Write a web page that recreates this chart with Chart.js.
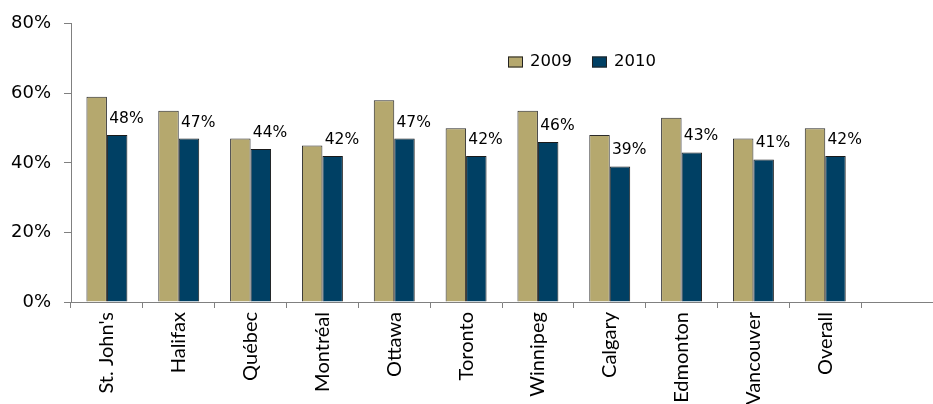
<!DOCTYPE html>
<html>
<head>
<meta charset="utf-8">
<script src="https://cdn.jsdelivr.net/npm/chart.js@4/dist/chart.umd.min.js"></script>
<style>
html,body{margin:0;padding:0;background:#fff;}
#wrap{position:relative;width:933px;height:404px;}
</style>
</head>
<body>
<div id="wrap"><canvas id="c" width="933" height="404"></canvas></div>
<script>
const categories = ["St. John's","Halifax","Québec","Montréal","Ottawa","Toronto","Winnipeg","Calgary","Edmonton","Vancouver","Overall",""];
const seriesNames = ["2009","2010"];
const values2009 = [59,55,47,45,58,50,55,48,53,47,50,null];
const values2010 = [48,47,44,42,47,42,46,39,43,41,42,null];
const yTicks = [0,20,40,60,80];

const NUMFONT = "'DejaVu Sans', sans-serif";
const LABFONT = "'Liberation Sans Narrow', 'Arial Narrow', Lato, sans-serif";
const TAN = '#B5A86E';
const NAVY = '#004064';

const dataLabels = {
  id:'dataLabels',
  afterDatasetsDraw(chart){
    const ctx = chart.ctx;
    const meta = chart.getDatasetMeta(1);
    ctx.save();
    ctx.font = '15.5px ' + NUMFONT;
    ctx.fillStyle = '#000';
    ctx.textAlign = 'center';
    ctx.textBaseline = 'middle';
    meta.data.forEach((el,i)=>{
      const v = chart.data.datasets[1].data[i];
      if(v==null) return;
      ctx.fillText(v + '%', el.x + el.width/2 - 1, el.y - 16);
    });
    ctx.restore();
  }
};

const customLegend = {
  id:'customLegend',
  afterDraw(chart, args, opts){
    const ctx = chart.ctx;
    ctx.save();
    ctx.font = '16.5px ' + NUMFONT;
    ctx.textBaseline = 'middle';
    ctx.textAlign = 'left';
    let x = opts.x;
    const y = opts.y;
    chart.data.datasets.forEach(ds=>{
      ctx.fillStyle = ds.backgroundColor;
      ctx.fillRect(x, y-5.5, 15, 11);
      ctx.strokeStyle = '#222';
      ctx.lineWidth = 1;
      ctx.strokeRect(x+0.5, y-5, 14, 10);
      ctx.fillStyle = '#000';
      ctx.fillText(ds.label, x + 22, y);
      x += 22 + ctx.measureText(ds.label).width + 20;
    });
    ctx.restore();
  }
};

new Chart(document.getElementById('c'), {
  type:'bar',
  data:{
    labels: categories,
    datasets:[
      {label: seriesNames[0], data: values2009, backgroundColor: TAN, borderColor:'#2a2a2a', borderWidth:1},
      {label: seriesNames[1], data: values2010, backgroundColor: NAVY, borderColor:'#1a1a1a', borderWidth:1}
    ]
  },
  options:{
    responsive:false,
    animation:false,
    devicePixelRatio:1,
    layout:{padding:{top:22,left:0,right:0,bottom:0}},
    datasets:{bar:{categoryPercentage:0.57, barPercentage:1.0}},
    plugins:{
      legend:{display:false},
      tooltip:{enabled:false},
      title:{display:false},
      customLegend:{x:508, y:62}
    },
    scales:{
      x:{
        grid:{drawOnChartArea:false, drawTicks:true, tickLength:6, color:'#808080', offset:true},
        border:{color:'#808080', width:1},
        ticks:{color:'#000', font:{family:LABFONT, size:20}, minRotation:90, maxRotation:90, autoSkip:false, padding:4},
        afterFit(s){ s.height = 102; }
      },
      y:{
        min:0, max:80,
        afterBuildTicks(s){ s.ticks = yTicks.map(v=>({value:v})); },
        grid:{drawOnChartArea:false, drawTicks:true, tickLength:7, color:'#808080'},
        border:{color:'#808080', width:1},
        ticks:{color:'#000', font:{family:NUMFONT, size:18}, padding:13, callback:v=>v+'%'},
        afterFit(s){ s.width = 71; }
      }
    }
  },
  plugins:[dataLabels, customLegend]
});
</script>
</body>
</html>
